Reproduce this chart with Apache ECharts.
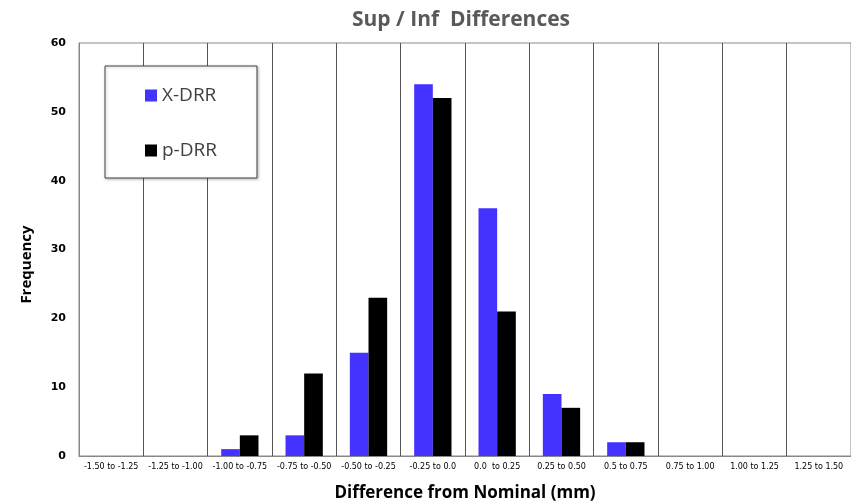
<!DOCTYPE html>
<html><head><meta charset="utf-8">
<script src="https://cdn.jsdelivr.net/npm/echarts@6/dist/echarts.min.js"></script>
<style>html,body{margin:0;padding:0;background:#fff}#c{width:851px;height:503px}</style>
</head><body><div id="c"></div>
<script>
const categories = ['-1.50 to -1.25','-1.25 to -1.00','-1.00 to -0.75','-0.75 to -0.50','-0.50 to -0.25','-0.25 to 0.0','0.0  to 0.25','0.25 to 0.50','0.5 to 0.75','0.75 to 1.00','1.00 to 1.25','1.25 to 1.50'];
const xdrr = [0,0,1,3,15,54,36,9,2,0,0,0];
const pdrr = [0,0,3,12,23,52,21,7,2,0,0,0];
const yTicks = [0,10,20,30,40,50,60];

const chart = echarts.init(document.getElementById('c'), null, {renderer:'canvas'});
chart.setOption({
  animation:false,
  backgroundColor:'#fff',
  title:{text:'Sup / Inf  Differences', left:456, textAlign:'center', top:5,
    textStyle:{fontFamily:'Open Sans', fontSize:21, fontWeight:'bold', color:'#595959'}},
  grid:{left:79, right:0, top:43, bottom:47, show:true, borderColor:'#888', borderWidth:1,
    containLabel:false, outerBoundsMode:'none'},
  legend:{orient:'vertical', left:105, top:66, data:['X-DRR','p-DRR'], icon:'rect',
    itemWidth:12, itemHeight:12, itemGap:36, padding:[20,40,18,40],
    borderColor:'#444', borderWidth:1, backgroundColor:'#fff',
    shadowColor:'rgba(0,0,0,0.25)', shadowBlur:3, shadowOffsetX:1, shadowOffsetY:1,
    textStyle:{fontFamily:'Open Sans', fontSize:19, color:'#404040'}},
  xAxis:{type:'category', data:categories,
    name:'Difference from Nominal (mm)', nameLocation:'middle', nameGap:29,
    nameTextStyle:{fontFamily:'Open Sans', fontSize:17, fontWeight:'bold', color:'#000'},
    axisLine:{lineStyle:{color:'#888'}}, axisTick:{show:false},
    axisLabel:{interval:0, fontFamily:'DejaVu Sans', fontSize:8, color:'#000', margin:7, fontWeight:'normal'},
    splitLine:{show:true, interval:0, lineStyle:{color:'#555', width:1}}},
  yAxis:{type:'value', min:0, max:60, interval:10,
    name:'Frequency', nameLocation:'middle', nameGap:45, nameRotate:90,
    nameTextStyle:{fontFamily:'Open Sans', fontSize:15, fontWeight:'bold', color:'#000', padding:[0,0,0,-30]},
    axisLine:{show:true, lineStyle:{color:'#888'}}, axisTick:{show:false},
    axisLabel:{fontFamily:'DejaVu Sans', fontSize:11, fontWeight:'bold', color:'#000', margin:13,
      formatter:v=>yTicks.includes(v)?String(v):''},
    splitLine:{show:false}},
  series:[
    {name:'X-DRR', type:'bar', data:xdrr, barGap:'0%', barCategoryGap:'42%',
      itemStyle:{color:'#4433ff', borderWidth:0, borderRadius:0}},
    {name:'p-DRR', type:'bar', data:pdrr, barGap:'0%', barCategoryGap:'42%',
      itemStyle:{color:'#000', borderWidth:0, borderRadius:0}}
  ]
});
</script></body></html>
